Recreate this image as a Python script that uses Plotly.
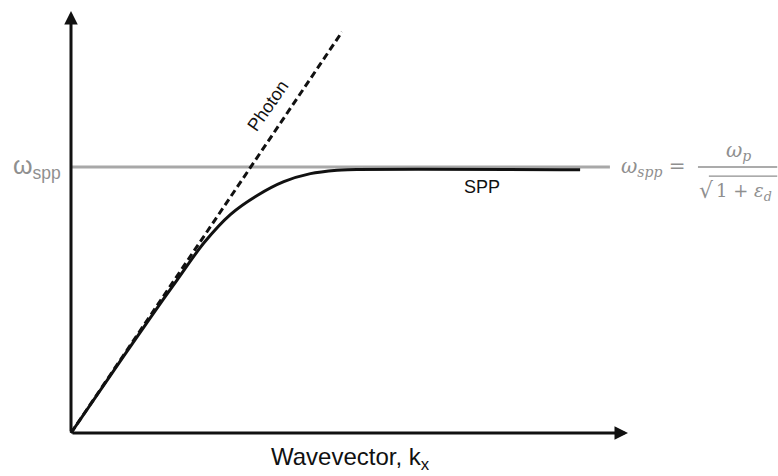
import plotly.graph_objects as go

# ---- data (arbitrary units, omega_spp = 1) ----
photon_k = [0.0, 1.019]
photon_w = [0.0, 1.508]

spp_k = [0.0, 0.2, 0.3, 0.4, 0.5, 0.6, 0.7, 0.8, 0.9, 1.0, 1.04, 1.914]
spp_w = [0.0, 0.292, 0.436, 0.577, 0.715, 0.822, 0.893, 0.945, 0.975, 0.988, 0.99, 0.99]

wspp_k = [0.0, 2.026]
wspp_w = [1.0, 1.0]

x_axis_end = 2.094
y_axis_end = 1.586

BLACK = "#111111"
GRAY_LINE = "#a8a8a8"
GRAY_TEXT = "#8f8f8f"
SANS = "Liberation Sans, Arial, sans-serif"
SERIF = "DejaVu Serif, serif"

fig = go.Figure()
fig.add_trace(go.Scatter(x=wspp_k, y=wspp_w, mode="lines",
                         line=dict(color=GRAY_LINE, width=3), hoverinfo="skip"))
fig.add_trace(go.Scatter(x=photon_k, y=photon_w, mode="lines",
                         line=dict(color=BLACK, width=3, dash="7px,4px"), hoverinfo="skip"))
fig.add_trace(go.Scatter(x=spp_k, y=spp_w, mode="lines",
                         line=dict(color=BLACK, width=3, shape="spline", smoothing=0.9),
                         hoverinfo="skip"))

annotations = []
# axes with arrows
annotations.append(dict(x=x_axis_end, y=0, ax=0, ay=0, xref="x", yref="y", axref="x", ayref="y",
                        text="", showarrow=True, arrowhead=2, arrowsize=0.9, arrowwidth=3,
                        arrowcolor=BLACK, standoff=0, startstandoff=0))
annotations.append(dict(x=0, y=y_axis_end, ax=0, ay=0, xref="x", yref="y", axref="x", ayref="y",
                        text="", showarrow=True, arrowhead=2, arrowsize=0.9, arrowwidth=3,
                        arrowcolor=BLACK, standoff=0, startstandoff=0))

# labels
annotations.append(dict(x=1.049, y=-0.095, xref="x", yref="y", showarrow=False,
                        text="Wavevector, k<sub>x</sub>", font=dict(family=SANS, size=24, color=BLACK)))
annotations.append(dict(x=-0.226, y=1.0, xref="x", yref="y", showarrow=False, xanchor="left",
                        text="ω<sub>spp</sub>", font=dict(family=SANS, size=25, color=GRAY_TEXT)))
annotations.append(dict(x=1.545, y=0.925, xref="x", yref="y", showarrow=False,
                        text="SPP", font=dict(family=SANS, size=18, color=BLACK)))
annotations.append(dict(x=0.741, y=1.228, xref="x", yref="y", showarrow=False, textangle=-55,
                        text="Photon", font=dict(family=SANS, size=18, color=BLACK)))

# formula
annotations.append(dict(x=2.06, y=1.0, xref="x", yref="y", showarrow=False, xanchor="left",
                        text="<i>ω<sub>spp</sub></i> =", font=dict(family=SERIF, size=20, color=GRAY_TEXT)))
annotations.append(dict(x=2.508, y=1.06, xref="x", yref="y", showarrow=False,
                        text="<i>ω<sub>p</sub></i>", font=dict(family=SERIF, size=20, color=GRAY_TEXT)))
annotations.append(dict(x=2.352, y=0.913, xref="x", yref="y", showarrow=False, xanchor="left",
                        text="√", font=dict(family=SERIF, size=22, color=GRAY_TEXT)))
annotations.append(dict(x=2.418, y=0.905, xref="x", yref="y", showarrow=False, xanchor="left",
                        text="1 + <i>ε<sub>d</sub></i>", font=dict(family=SERIF, size=18, color=GRAY_TEXT)))

shapes = [
    dict(type="line", xref="x", yref="y", x0=2.357, x1=2.655, y0=1.0, y1=1.0,
         line=dict(color=GRAY_TEXT, width=1.4)),
    dict(type="line", xref="x", yref="y", x0=2.398, x1=2.655, y0=0.966, y1=0.966,
         line=dict(color=GRAY_TEXT, width=1.2)),
]

fig.update_layout(
    width=778, height=476,
    margin=dict(l=0, r=0, t=0, b=0),
    paper_bgcolor="white", plot_bgcolor="white",
    showlegend=False,
    xaxis=dict(range=[-71/266, 707/266], visible=False, fixedrange=True),
    yaxis=dict(range=[-43/266, 433/266], visible=False, fixedrange=True),
    annotations=annotations, shapes=shapes,
)

fig.write_html("out.html", config={"displayModeBar": False},
               post_script="document.body.style.margin='0';")
